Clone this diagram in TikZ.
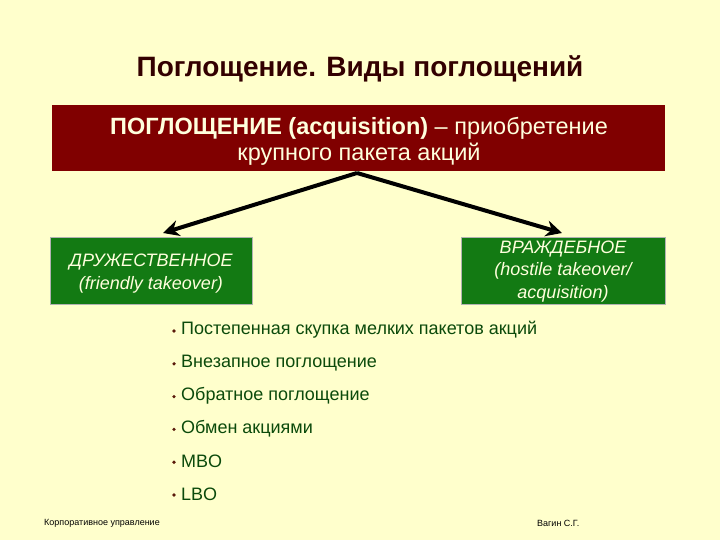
\documentclass[tikz,border=0pt]{standalone}
\usepackage{fontspec}
\setmainfont{Liberation Sans}
\usetikzlibrary{arrows.meta}
\definecolor{bgc}{HTML}{FFFFCC}
\definecolor{redbox}{HTML}{800000}
\definecolor{greenbox}{HTML}{137A13}
\definecolor{boxtxt}{HTML}{FFFFDD}
\definecolor{titlec}{HTML}{330000}
\definecolor{itemc}{HTML}{0B4A0B}
\definecolor{bulc}{HTML}{5A1A0A}
\tikzset{
  mainbox/.style={draw=none, fill=redbox, inner sep=0pt},
  maintext/.style={text=boxtxt, inner sep=0pt, align=center, font=\fontsize{23.5}{26}\selectfont},
  kindbox/.style={draw=gray!60, fill=greenbox, inner sep=0pt},
  kindtext/.style={text=boxtxt, inner sep=0pt, align=center, font=\fontsize{18}{22.3}\selectfont\itshape},
  branch/.style={line width=4pt, -{Stealth[length=16pt,width=16pt]}},
  item/.style={anchor=west, text=itemc, font=\fontsize{18}{20}\selectfont, inner sep=0pt},
  foot/.style={font=\fontsize{9}{10}\selectfont, text=black, inner sep=0pt}
}
\begin{document}
\begin{tikzpicture}[x=1pt,y=-1pt]
\fill[bgc] (0,0) rectangle (720,540);
\useasboundingbox (0,0) rectangle (720,540);
\node[font=\fontsize{28}{32}\selectfont\bfseries, text=titlec] (title) at (360,69) {Поглощение.  Виды поглощений};
\node[mainbox, minimum width=613pt, minimum height=66pt] (acq) at (358.5,138) {};
\node[maintext] (acqt) at (359,141.5)
  {\textbf{ПОГЛОЩЕНИЕ (acquisition)} – приобретение\\ крупного пакета акций};
\node[kindbox, minimum width=202pt, minimum height=67pt] (fr) at (151,270.5) {};
\node[kindtext] (frt) at (151,273.5) {ДРУЖЕСТВЕННОЕ\\(friendly takeover)};
\node[kindbox, minimum width=204pt, minimum height=67pt] (ho) at (563,270.5) {};
\node[kindtext] (hot) at (563,271.5) {ВРАЖДЕБНОЕ\\(hostile takeover/\\acquisition)};
\coordinate (top) at (357,173);
\draw[branch] (top) -- (163,233);
\draw[branch] (top) -- (562,233);
\foreach \t [count=\i] in {Постепенная скупка мелких пакетов акций, Внезапное поглощение, Обратное поглощение, Обмен акциями, MBO, LBO}{
  \pgfmathsetmacro{\yy}{330+32.8*(\i-1)}
  \fill[bulc] (174,\yy+1) circle (1.8pt);
  \node[item] (it\i) at (181,\yy) {\t};
}
\node[foot, anchor=west] (f1) at (44,523) {Корпоративное управление};
\node[foot, anchor=west] (f2) at (537,523) {Вагин С.Г.};
\end{tikzpicture}
\end{document}
